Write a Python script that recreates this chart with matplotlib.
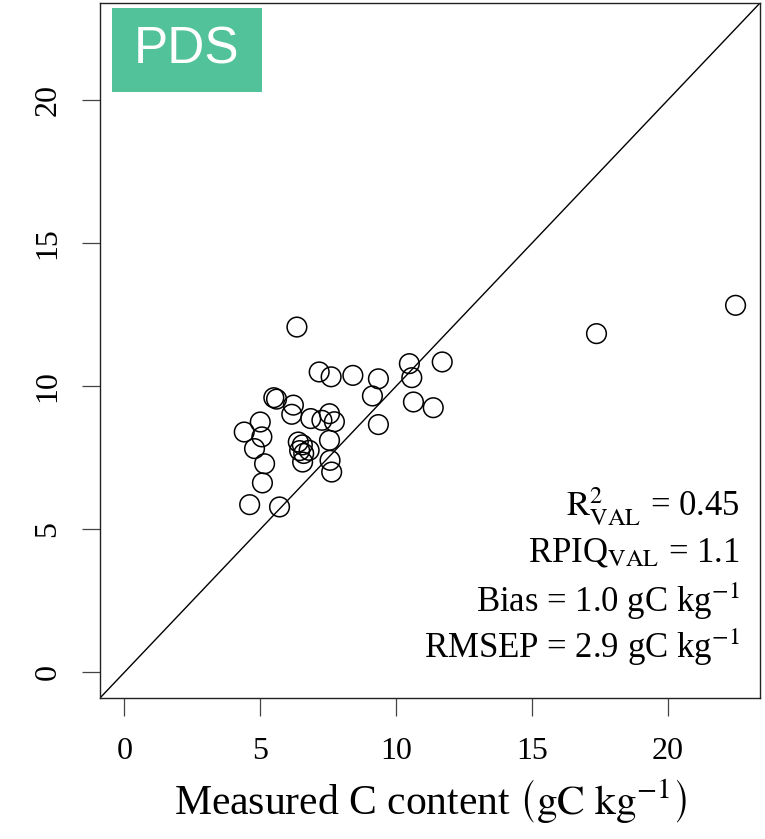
import matplotlib
matplotlib.use("Agg")
import matplotlib.pyplot as plt
from matplotlib.patches import Rectangle

# Measured vs predicted C content (gC kg-1)
measured = [6.35, 7.17, 7.61, 8.41, 9.35, 9.13, 10.49, 10.58, 11.70, 10.64,
            11.37, 9.35, 5.50, 5.60, 6.22, 6.16, 6.86, 7.27, 7.55, 7.73,
            7.55, 5.00, 4.41, 5.06, 4.79, 6.40, 6.55, 6.45, 6.60, 6.80,
            6.56, 7.57, 7.63, 5.16, 5.08, 4.61, 5.71, 17.38, 22.50]
predicted = [12.07, 10.50, 10.33, 10.38, 10.26, 9.66, 10.79, 10.30, 10.85, 9.45,
             9.25, 8.66, 9.60, 9.55, 9.34, 9.02, 8.87, 8.81, 9.04, 8.76,
             8.11, 8.75, 8.40, 8.23, 7.82, 8.05, 7.95, 7.75, 7.65, 7.76,
             7.35, 7.41, 7.00, 7.29, 6.62, 5.86, 5.78, 11.84, 12.83]

ticks = [0, 5, 10, 15, 20]
panel_label = "PDS"
stats_lines = [r"$\mathrm{R}^{2}_{\mathrm{VAL}}$ = 0.45",
               r"RPIQ$_{\mathrm{VAL}}$ = 1.1",
               r"Bias = 1.0 gC kg$^{\mathrm{-1}}$",
               r"RMSEP = 2.9 gC kg$^{\mathrm{-1}}$"]
stats_y = [5.45, 3.88, 2.10, 0.49]

plt.rcParams['font.family'] = ['Liberation Serif', 'DejaVu Serif']
plt.rcParams['mathtext.fontset'] = 'stix'

W, H = 765, 839
fig = plt.figure(figsize=(W / 100, H / 100), dpi=100)
ax = fig.add_axes([100 / W, (H - 698) / H, 660 / W, 695 / H])

lim = (0 - 0.04 * 22.5, 22.5 + 0.04 * 22.5)
ax.set_xlim(lim)
ax.set_ylim(lim)

ax.axline((0, 0), (1, 1), color='black', lw=1.0)
ax.scatter(measured, predicted, s=200, facecolors='none', edgecolors='black',
           linewidths=1.1, zorder=3)

ax.set_xticks(ticks)
ax.set_yticks(ticks)
ax.set_xticklabels([str(t) for t in ticks])
ax.set_yticklabels([str(t) for t in ticks], rotation=90, va='center')
ax.tick_params(axis='both', direction='out', length=13, width=0.9,
               labelsize=23, color='#444444')
ax.tick_params(axis='x', pad=15)
ax.tick_params(axis='y', pad=14)
for sp in ax.spines.values():
    sp.set_linewidth(1.0)
    sp.set_color('#222222')

ax.set_xlabel(r"Measured C content $\left(\mathrm{gC\ kg^{-1}}\right)$",
              fontsize=30, labelpad=8)

for txt, yy in zip(stats_lines, stats_y):
    ax.text(22.65, yy, txt, ha='right', va='baseline', fontsize=25)

ax.add_patch(Rectangle((0.018, 0.872), 0.227, 0.121, transform=ax.transAxes,
                       facecolor='#52C29A', edgecolor='none', zorder=4))
ax.text(0.1318, 0.932, panel_label, transform=ax.transAxes, ha='center',
        va='center', fontsize=37, color='white',
        family=['Liberation Sans', 'DejaVu Sans'], zorder=5)

fig.savefig("out.png", dpi=100)
